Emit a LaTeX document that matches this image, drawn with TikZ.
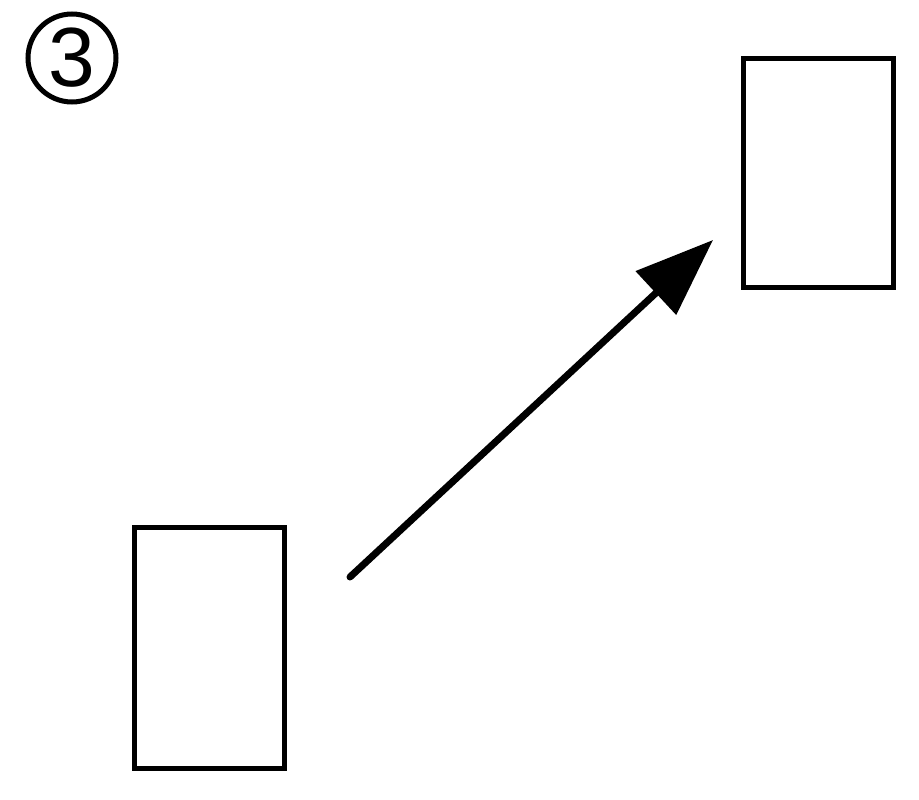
\documentclass[tikz,border=0pt]{standalone}
\usepackage{fontspec}
\setmainfont{Liberation Sans}
\usetikzlibrary{arrows.meta}
\begin{document}
\begin{tikzpicture}[x=1pt,y=-1pt,
  box/.style={draw=black,line width=5pt,minimum width=150pt,inner sep=0pt,fill=white},
  num/.style={draw=black,circle,line width=5pt,minimum size=88pt,inner sep=0pt,font=\fontsize{84}{84}\selectfont},
  arr/.style={line width=7pt,line cap=round,-{Triangle[length=78pt,width=58pt]}}]
\useasboundingbox (0,0) rectangle (919,800);
\node[num] (n3) at (72,58) {3};
\node[box,minimum height=229pt] (top) at (818.5,173) {};
\node[box,minimum height=241pt] (bot) at (209,648) {};
\coordinate (s) at (350,577);
\coordinate (e) at (713,240);
\draw[arr] (s) -- (e);
\end{tikzpicture}
\end{document}
